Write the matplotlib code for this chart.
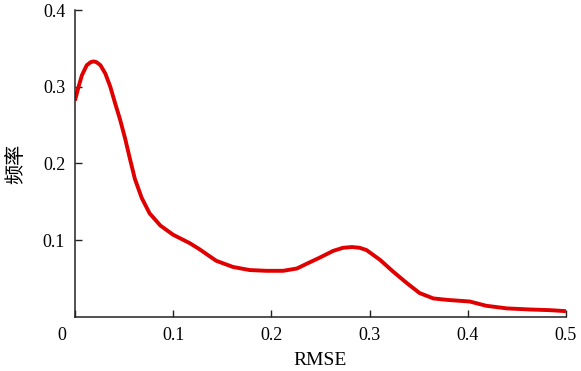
import matplotlib
matplotlib.use('Agg')
import matplotlib.pyplot as plt
import matplotlib.transforms as mtransforms

# values
rmse = [0.0, 0.0037, 0.0071, 0.012, 0.016, 0.019, 0.022, 0.026, 0.031, 0.036,
        0.041, 0.046, 0.051, 0.056, 0.061, 0.068, 0.076, 0.087, 0.100, 0.117,
        0.127, 0.136, 0.144, 0.161, 0.178, 0.195, 0.212, 0.226, 0.239, 0.249,
        0.263, 0.273, 0.282, 0.290, 0.297, 0.311, 0.324, 0.338, 0.351, 0.365,
        0.380, 0.402, 0.419, 0.440, 0.463, 0.484, 0.500]
freq = [0.282, 0.300, 0.315, 0.328, 0.332, 0.333, 0.332, 0.328, 0.317, 0.300,
        0.278, 0.257, 0.233, 0.206, 0.180, 0.155, 0.135, 0.119, 0.107, 0.096,
        0.088, 0.080, 0.073, 0.065, 0.061, 0.060, 0.060, 0.063, 0.071, 0.077,
        0.086, 0.090, 0.091, 0.090, 0.087, 0.074, 0.059, 0.044, 0.031, 0.024,
        0.022, 0.020, 0.0144, 0.011, 0.0096, 0.0087, 0.0074]

xticks = [0, 0.1, 0.2, 0.3, 0.4, 0.5]
xtick_labels = ["0", "0.1", "0.2", "0.3", "0.4", "0.5"]
yticks = [0.1, 0.2, 0.3, 0.4]
ytick_labels = ["0.1", "0.2", "0.3", "0.4"]

plt.rcParams['font.family'] = ['Liberation Serif', 'Noto Sans CJK SC']

fig = plt.figure(figsize=(5.81, 3.71), dpi=100)
ax = fig.add_axes([0.129, 0.146, 0.845, 0.827])

ax.plot(rmse, freq, color='#e00000', linewidth=2.8, solid_capstyle='butt',
        solid_joinstyle='round')

ax.set_xlim(0, 0.5)
ax.set_ylim(0, 0.4)
ax.set_xticks(xticks)
ax.set_xticklabels(xtick_labels)
ax.set_yticks(yticks)
ax.set_yticklabels(ytick_labels)

for side in ['top', 'right']:
    ax.spines[side].set_visible(False)
for side in ['left', 'bottom']:
    ax.spines[side].set_linewidth(1.1)
    ax.spines[side].set_color('#222222')

ax.tick_params(direction='in', length=5, width=1.0, color='#222222',
               labelsize=13, pad=7)

# origin label sits left of the axis corner
shift = mtransforms.ScaledTranslation(-13 / 100, 0, fig.dpi_scale_trans)
lbl0 = ax.get_xticklabels()[0]
lbl0.set_transform(lbl0.get_transform() + shift)

ax.set_xlabel("RMSE", fontsize=14, labelpad=6)
ax.set_ylabel("频率", fontsize=14.5, family=['Noto Sans CJK SC'], labelpad=12)

fig.savefig("out.png", dpi=100)
